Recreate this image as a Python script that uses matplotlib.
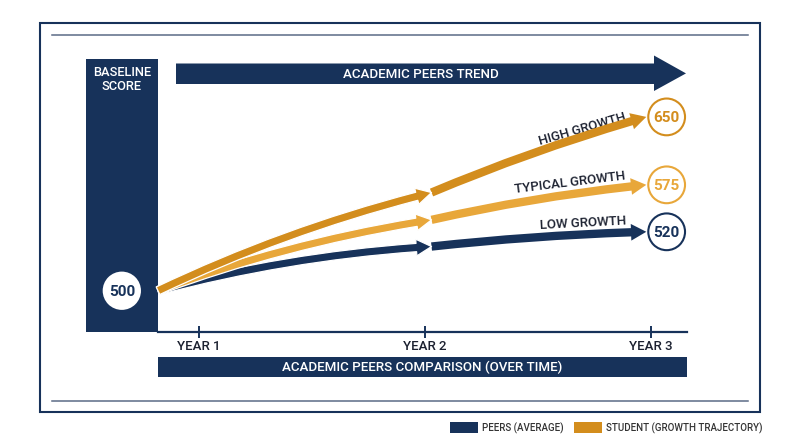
import numpy as np
import matplotlib.pyplot as plt
from matplotlib.patches import Rectangle, Polygon, FancyArrowPatch, ArrowStyle

plt.rcParams['font.family'] = ['Roboto', 'DejaVu Sans']
plt.rcParams['font.weight'] = 'medium'

NAVY = '#17325a'
GOLD = '#d38d1d'
AMBER = '#e8a73a'
INK = '#1c2130'

# data
years = [1, 2, 3]
year_labels = ['YEAR 1', 'YEAR 2', 'YEAR 3']
baseline_score = 500
# time positions of each trajectory: start (baseline), checkpoint, end
path_years = [0.82, 2.03, 2.98]
high_growth = [500, 566, 650]
typical_growth = [500, 534, 575]
low_growth = [500, 515, 520]
series_names = ['HIGH GROWTH', 'TYPICAL GROWTH', 'LOW GROWTH']
legend_labels = ['PEERS (AVERAGE)', 'STUDENT (GROWTH TRAJECTORY)']

# the infographic is not drawn to a linear score scale -> piecewise scale
score_knots = [480, 500, 520, 575, 650, 720]
height_knots = [97, 156, 215, 262, 330, 393.5]


def fwd(v):
    return np.interp(v, score_knots, height_knots)


def inv(h):
    return np.interp(h, height_knots, score_knots)


fig = plt.figure(figsize=(8, 4.47), dpi=100)

# background / decoration layer in pixel units
bg = fig.add_axes([0, 0, 1, 1])
bg.set_xlim(0, 800)
bg.set_ylim(447, 0)
bg.axis('off')

bg.add_patch(Rectangle((40, 23), 720, 389, fill=False, ec=NAVY, lw=1.5))
bg.plot([52, 748], [34.5, 34.5], color='#5b6b86', lw=1.1)
bg.plot([52, 748], [401, 401], color='#5b6b86', lw=1.1)

# baseline column
bg.add_patch(Rectangle((86, 59), 72, 273, fc=NAVY, ec='none'))
bg.text(122, 79, 'BASELINE\nSCORE', color='white', ha='center', va='center',
        fontsize=9.3, linespacing=1.1)

# top trend banner arrow
bg.add_patch(Polygon([(176, 63.5), (654, 63.5), (654, 55.5), (686, 73.4),
                      (654, 91), (654, 84), (176, 84)], closed=True, fc=NAVY, ec='none'))
bg.text(421, 74, 'ACADEMIC PEERS TREND', color='white', ha='center', va='center',
        fontsize=9.6)

# bottom banner
bg.add_patch(Rectangle((158, 357), 529, 20, fc=NAVY, ec='none'))
bg.text(422.5, 367.5, 'ACADEMIC PEERS COMPARISON (OVER TIME)', color='white',
        ha='center', va='center', fontsize=9.6)

# legend
bg.add_patch(Rectangle((450, 422), 28, 11, fc=NAVY, ec='none'))
bg.text(482, 428, legend_labels[0], color='#333333', ha='left', va='center', fontsize=7)
bg.add_patch(Rectangle((574, 422), 28, 11, fc=GOLD, ec='none'))
bg.text(606, 428, legend_labels[1], color='#333333', ha='left', va='center', fontsize=7)

# series labels
bg.text(582, 129, series_names[0], rotation=16, ha='center', va='center',
        fontsize=9.5, color=INK, rotation_mode='anchor')
bg.text(570, 182.5, series_names[1], rotation=7, ha='center', va='center',
        fontsize=9.5, color=INK, rotation_mode='anchor')
bg.text(583, 223, series_names[2], rotation=3, ha='center', va='center',
        fontsize=9.5, color=INK, rotation_mode='anchor')

# data layer
ax = fig.add_axes([158 / 800, (447 - 332) / 447, 529 / 800, 274 / 447])
ax.patch.set_alpha(0)
ax.set_yscale('function', functions=(fwd, inv))
ax.set_xlim(0.82, 3.16)
ax.set_ylim(486, 715)
for s in ['top', 'left', 'right']:
    ax.spines[s].set_visible(False)
ax.spines['bottom'].set_color(NAVY)
ax.spines['bottom'].set_linewidth(1.6)
ax.set_xticks(years, year_labels)
ax.tick_params(axis='x', direction='inout', length=8.6, width=1.4, color=NAVY,
               pad=1.5, labelsize=9.5, labelcolor=INK)
ax.tick_params(axis='y', which='both', left=False, labelleft=False)
ax.tick_params(axis='x', which='minor', bottom=False)

style = ArrowStyle.Simple(head_length=11, head_width=12, tail_width=6)
series = [
    (low_growth, NAVY, -0.05, -0.02),
    (typical_growth, AMBER, -0.05, -0.03),
    (high_growth, GOLD, -0.05, -0.03),
]
for vals, col, rad1, rad2 in series:
    seg2 = FancyArrowPatch((path_years[1], vals[1]), (path_years[2], vals[2]),
                           arrowstyle=style, connectionstyle=f'arc3,rad={rad2}',
                           mutation_scale=1, fc=col, ec='none',
                           shrinkA=0, shrinkB=0, zorder=2, clip_on=False)
    ax.add_patch(seg2)
    seg1 = FancyArrowPatch((path_years[0], vals[0]), (path_years[1], vals[1]),
                           arrowstyle=style, connectionstyle=f'arc3,rad={rad1}',
                           mutation_scale=1, fc=col, ec='white', lw=0.9,
                           shrinkA=0, shrinkB=0, zorder=3, clip_on=False)
    ax.add_patch(seg1)

# end value badges
end_x = 3.07
end_vals = [high_growth[-1], typical_growth[-1], low_growth[-1]]
end_cols = [GOLD, AMBER, NAVY]
ax.scatter([end_x] * 3, end_vals, s=700, facecolor='white', edgecolors=end_cols,
           linewidths=1.5, zorder=5, clip_on=False)
for v, c in zip(end_vals, end_cols):
    ax.text(end_x, v, str(v), ha='center', va='center_baseline', fontsize=11,
            fontweight='bold', color=c, zorder=6)

# baseline badge
base_x = 0.66
ax.scatter([base_x], [baseline_score], s=760, facecolor='white', edgecolors='none',
           zorder=5, clip_on=False)
ax.text(base_x, baseline_score, str(baseline_score), ha='center', va='center_baseline',
        fontsize=11, fontweight='bold', color=NAVY, zorder=6)

fig.savefig('out.png', dpi=100)
